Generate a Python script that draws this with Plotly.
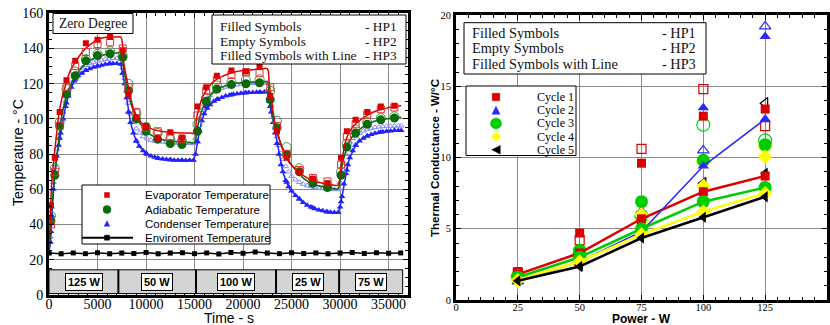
import plotly.graph_objects as go

# ---------------- LEFT CHART DATA (Time - s vs Temperature) ----------------
t_line = [0, 150, 300, 500, 750, 1000, 1300, 1700, 2200, 2800, 3500, 4300, 5200, 6200, 7000, 7400,
          7700, 8000, 8300, 8700, 9200, 9800, 10500, 11500, 12500, 13500, 14500, 15000, 15200, 15450,
          15800, 16300, 17000, 18000, 19000, 20000, 21000, 22000, 22500, 22700, 23000, 23300, 23700,
          24200, 24800, 25500, 26300, 27200, 28200, 29200, 29800, 30000, 30200, 30500, 30900, 31400,
          32000, 32800, 33700, 34700, 35600, 36300]
evap_hp3 = [25, 48, 65, 77, 90, 102, 111, 119, 127.5, 133, 138.5, 142.5, 145.5, 146.5, 146.5, 146.5,
            132, 123, 115, 106, 100, 96.5, 94.5, 93, 92.5, 92, 92, 92, 100, 106,
            112, 117, 121.5, 124.5, 126.5, 127.5, 128, 128.5, 128.5, 120, 108, 97, 89,
            81, 75, 71, 67.5, 65, 63.5, 62.5, 62.5, 70, 76, 86, 92, 96,
            99, 102, 104.5, 106, 107, 107.5]
adia_hp3 = [25, 38, 50, 63, 75, 88, 101, 111, 119, 125, 130, 133.5, 135.5, 137, 137.5, 137.5,
            128, 120, 112, 104.5, 99, 94.5, 91, 88.5, 87.5, 87, 86.5, 86.5, 92, 99,
            105.5, 111, 115.5, 118.5, 120, 120.5, 121, 121, 121, 114, 104, 96, 89,
            82, 75.5, 70.5, 66, 63, 61.5, 60.5, 60.5, 66, 73, 80, 86.5, 91,
            94, 97, 99, 100, 100.5, 101]

t_sym = [200, 600, 1100, 1800, 2700, 3800, 5000, 6300, 7600, 8200, 9000, 10000, 11200, 12500, 13700,
         15300, 16200, 17300, 18800, 20300, 21700, 22800, 23500, 24500, 25800, 27200, 28700, 30100,
         30700, 31600, 32800, 34200, 35600]
evap_hp1 = [51, 78, 104, 122, 133, 143, 145, 146.5, 139, 114, 101, 96, 89, 92.5, 89.5,
            107, 118, 124.5, 127.5, 127, 129.5, 113, 93, 78, 70, 66, 63.5, 78,
            93, 99.5, 104, 107, 107.5]
evap_hp2 = [40, 70, 96, 118, 130, 138, 142.5, 143.5, 140, 118, 104, 95, 93, 90, 88.5,
            102, 116, 122, 125, 126.5, 126, 118, 96, 80, 71, 66.5, 64.5, 74,
            90, 97, 102.5, 105.5, 106.5]
adia_hp1 = [42, 68, 96, 114, 124.5, 133, 136, 137, 135, 116, 100, 93, 88.5, 86, 85.5,
            93, 110, 117, 119.5, 120, 120.5, 111, 95, 80, 70, 63.5, 61, 68,
            84, 92, 97, 99.5, 100.5]
adia_hp2 = [45, 72, 98, 117, 127, 134, 137, 138.5, 136, 120, 103, 95.5, 92, 88.5, 87.5,
            97, 112, 119, 121, 122, 122.5, 116, 99, 84, 72, 65, 62.5, 70,
            86, 94, 98, 100.5, 101.5]
cond_hp1 = [36, 70, 89, 109, 122.5, 127.5, 130, 131.3, 126, 104, 87.5, 80.5, 77.8, 76.8, 76.5,
            87, 107, 111, 113.8, 114.9, 115.2, 107, 86, 64, 54.5, 49.5, 47.2, 53,
            71, 85, 90.3, 92.5, 93.4]

t_cond = [0, 150, 300, 450, 600, 800, 1000, 1200, 1450, 1700, 2000, 2300, 2600, 3000, 3400, 3800, 4200,
          4600, 5000, 5400, 5800, 6200, 6600, 7000, 7400, 7600, 7800, 8000, 8200, 8400, 8700, 9000,
          9300, 9700, 10100, 10500, 10900, 11300, 11700, 12100, 12500, 12900, 13300, 13700, 14100,
          14500, 14900, 15100, 15300, 15500, 15750, 16000, 16300, 16600, 17000, 17400, 17800, 18200,
          18600, 19000, 19400, 19800, 20200, 20600, 21000, 21400, 21800, 22200, 22500, 22700, 22900,
          23100, 23300, 23500, 23700, 23900, 24100, 24400, 24700, 25000, 25400, 25800, 26200, 26600,
          27000, 27400, 27800, 28200, 28600, 29000, 29400, 29800, 30000, 30200, 30400, 30600, 30800,
          31000, 31300, 31600, 32000, 32400, 32800, 33200, 33600, 34000, 34400, 34800, 35200, 35600,
          36000, 36300]
cond_hp3 = [24, 30, 45, 60, 70, 79, 85, 92, 100, 107, 113, 118, 121.5, 124.5, 126, 127.5, 128.5,
            129.3, 130, 130.5, 131, 131.3, 131.5, 131.5, 131, 126, 120, 112, 104, 98, 92, 87.5,
            84.5, 82, 80, 79, 78.2, 77.6, 77.2, 77, 76.8, 76.6, 76.5, 76.5, 76.4,
            76.5, 76.5, 80, 87, 93, 99, 103, 106, 108, 110, 111.3, 112.2, 113,
            113.5, 114, 114.3, 114.6, 114.8, 115, 115, 115.2, 115.2, 115.3, 115.3, 110, 104,
            98, 92, 86, 80, 74, 70, 65, 61.5, 59, 56.5, 54.5, 52.5, 51,
            50, 49, 48.3, 47.8, 47.3, 47, 46.8, 46.8, 50, 56, 63, 69, 74,
            78, 82, 85, 87.5, 89, 90.3, 91.2, 91.8, 92.3, 92.7, 93, 93.2, 93.4,
            93.5, 93.5]
cond_hp2 = [24, 33, 50, 64, 74, 83, 90, 97, 104, 110, 116, 120.5, 124, 127, 129, 130.5, 131.5,
            132.3, 133, 133.5, 134, 134.2, 134.5, 134.5, 134, 129, 123, 116, 109, 103, 98, 94.5,
            92, 90, 88.8, 88, 87.5, 87.2, 87, 86.8, 86.6, 86.5, 86.4, 86.3, 86.3,
            86.2, 86.2, 89, 95, 100, 105, 108.5, 111.5, 113.5, 115.3, 116.5, 117.5, 118.2,
            118.8, 119.2, 119.5, 119.8, 120, 120.2, 120.3, 120.4, 120.5, 120.5, 120.5, 115, 108,
            101, 95, 90, 85, 80.5, 77, 73, 70, 67.5, 65.5, 64, 63, 62.2,
            61.6, 61.2, 60.8, 60.5, 60.3, 60.2, 60, 60, 64, 70, 75, 80, 84,
            87, 89, 90, 92, 93.3, 94.2, 94.8, 95.2, 95.5, 95.7, 95.9, 96, 96,
            96.1, 96.1]

t_env = [0, 1250, 2500, 3750, 5000, 6250, 7500, 8750, 10000, 11250, 12500, 13750, 15000, 16250, 17500,
         18750, 20000, 21250, 22500, 23750, 25000, 26250, 27500, 28750, 30000, 31250, 32500, 33750,
         35000, 36250]
env_temp = [23.8, 23.4, 23.9, 23.5, 24.0, 23.4, 23.8, 23.6, 24.1, 23.4, 23.8, 24.0, 23.5, 23.9, 23.3,
            24.1, 23.7, 24.4, 23.8, 23.5, 24.0, 23.6, 23.9, 23.4, 23.8, 24.1, 23.6, 24.0, 23.7, 23.9]

power_edges = [0, 7150, 15150, 23400, 29900, 36450]
power_labels = ["125 W", "50 W", "100 W", "25 W", "75 W"]
band_low, band_high = 0.8, 14.3

# ---------------- RIGHT CHART DATA (Power vs Thermal Conductance) ----------------
power_w = [25, 50, 75, 100, 125]
cycles = ["Cycle 1", "Cycle 2", "Cycle 3", "Cycle 4", "Cycle 5"]
hp3_vals = [[1.8, 3.3, 5.7, 7.6, 8.7],
            [1.3, 2.7, 4.8, 9.4, 12.7],
            [1.6, 3.0, 5.0, 6.9, 7.9],
            [1.4, 2.7, 4.6, 6.2, 7.5],
            [1.35, 2.35, 4.35, 5.8, 7.25]]
hp1_vals = [[2.0, 4.7, 9.6, 12.9, 13.4],
            [1.4, 2.8, 5.9, 13.5, 18.5],
            [1.7, 3.5, 6.9, 9.8, 10.9],
            [1.5, 2.9, 6.0, 8.0, 10.05],
            [1.4, 2.5, 5.4, 7.15, 8.9]]
hp2_vals = [[1.9, 4.2, 10.6, 14.8, 12.2],
            [1.3, 2.9, 6.2, 10.5, 19.2],
            [1.6, 3.2, 5.9, 12.3, 11.2],
            [1.4, 2.8, 5.6, 9.7, 10.7],
            [1.45, 2.45, 4.8, 8.2, 13.8]]

# ---------------- styles ----------------
W, H = 830, 325
SERIF = "Liberation Serif"
SANS = "Liberation Sans"
RED, DGREEN, BLUE = "#dd0000", "#0a6a0a", "#2222ff"
cyc_colors = ["#dd0000", "#2a2aff", "#00cc00", "#ffff00", "#000000"]
cyc_sym = ["square", "triangle-up", "circle", "diamond", "triangle-left"]
cyc_size = [9, 10, 13, 11, 10]
cyc_lw = [2.5, 1.6, 2.5, 2.5, 2.5]


def px(x):
    return x / W


def py(y):
    return 1 - y / H


fig = go.Figure()

# left chart traces
fig.add_trace(go.Scatter(x=t_cond, y=cond_hp2, mode="markers",
                         marker=dict(symbol="triangle-up-open", size=5, color="#8a8aff", line=dict(width=1)),
                         xaxis="x", yaxis="y"))
fig.add_trace(go.Scatter(x=t_cond, y=cond_hp3, mode="lines+markers", line=dict(color=BLUE, width=1.5),
                         marker=dict(symbol="triangle-up", size=6, color=BLUE), xaxis="x", yaxis="y"))
fig.add_trace(go.Scatter(x=t_sym, y=cond_hp1, mode="markers",
                         marker=dict(symbol="triangle-up", size=6, color=BLUE), xaxis="x", yaxis="y"))
fig.add_trace(go.Scatter(x=t_line, y=adia_hp3, mode="lines", line=dict(color=DGREEN, width=1.5, shape="spline"),
                         xaxis="x", yaxis="y"))
fig.add_trace(go.Scatter(x=t_sym, y=adia_hp2, mode="markers",
                         marker=dict(symbol="circle-open", size=9, color="#3a9a3a", line=dict(width=1)),
                         xaxis="x", yaxis="y"))
fig.add_trace(go.Scatter(x=t_sym, y=adia_hp1, mode="markers",
                         marker=dict(symbol="circle", size=9, color=DGREEN), xaxis="x", yaxis="y"))
fig.add_trace(go.Scatter(x=t_line, y=evap_hp3, mode="lines", line=dict(color=RED, width=1.5, shape="spline"),
                         xaxis="x", yaxis="y"))
fig.add_trace(go.Scatter(x=t_sym, y=evap_hp2, mode="markers",
                         marker=dict(symbol="square-open", size=7, color="#e03030", line=dict(width=1)),
                         xaxis="x", yaxis="y"))
fig.add_trace(go.Scatter(x=t_sym, y=evap_hp1, mode="markers",
                         marker=dict(symbol="square", size=6, color=RED), xaxis="x", yaxis="y"))
fig.add_trace(go.Scatter(x=t_env, y=env_temp, mode="lines+markers", line=dict(color="black", width=1.5),
                         marker=dict(symbol="square", size=5, color="black"), xaxis="x", yaxis="y"))

# right chart traces
for i in range(5):
    fig.add_trace(go.Scatter(x=power_w, y=hp2_vals[i], mode="markers",
                             marker=dict(symbol=cyc_sym[i] + "-open", size=cyc_size[i], color=cyc_colors[i],
                                         line=dict(width=1.2)),
                             xaxis="x2", yaxis="y2"))
for i in range(5):
    fig.add_trace(go.Scatter(x=power_w, y=hp1_vals[i], mode="markers",
                             marker=dict(symbol=cyc_sym[i], size=cyc_size[i], color=cyc_colors[i]),
                             xaxis="x2", yaxis="y2"))
for i in range(5):
    fig.add_trace(go.Scatter(x=power_w, y=hp3_vals[i], mode="lines+markers",
                             line=dict(color=cyc_colors[i], width=cyc_lw[i]),
                             marker=dict(symbol=cyc_sym[i], size=cyc_size[i], color=cyc_colors[i]),
                             xaxis="x2", yaxis="y2"))

shapes = []
annotations = []

# power band
shapes.append(dict(type="rect", xref="x", yref="y", x0=power_edges[0], x1=power_edges[-1], y0=band_low,
                   y1=band_high, fillcolor="#d4d4d4", line=dict(color="black", width=1), layer="above"))
for e in power_edges[1:-1]:
    shapes.append(dict(type="line", xref="x", yref="y", x0=e, x1=e, y0=band_low, y1=band_high,
                       line=dict(color="black", width=2), layer="above"))
for i, lab in enumerate(power_labels):
    annotations.append(dict(xref="x", yref="y", x=(power_edges[i] + power_edges[i + 1]) / 2, y=(band_low + band_high) / 2,
                            text="<b>%s</b>" % lab, showarrow=False, font=dict(family=SANS, size=11, color="black"),
                            bgcolor="white", bordercolor="black", borderwidth=1, borderpad=2))


# text boxes and legend keys (paper-pixel helpers)
def box(x0, y0, x1, y1):
    shapes.append(dict(type="rect", xref="paper", yref="paper", x0=px(x0), x1=px(x1), y0=py(y1), y1=py(y0),
                       fillcolor="white", line=dict(color="black", width=1), layer="above"))


def key(kind, cx, cy, s, color):
    h = s / 2.0
    base = dict(xref="paper", yref="paper", fillcolor=color, line=dict(color=color, width=0.5), layer="above")
    if kind == "square":
        shapes.append(dict(type="rect", x0=px(cx - h), x1=px(cx + h), y0=py(cy + h), y1=py(cy - h), **base))
    elif kind == "circle":
        shapes.append(dict(type="circle", x0=px(cx - h), x1=px(cx + h), y0=py(cy + h), y1=py(cy - h), **base))
    else:
        if kind == "triangle-up":
            pts = [(cx, cy - h), (cx + h, cy + h), (cx - h, cy + h)]
        elif kind == "diamond":
            pts = [(cx, cy - h), (cx + h, cy), (cx, cy + h), (cx - h, cy)]
        else:  # triangle-left
            pts = [(cx - h, cy), (cx + h, cy - h), (cx + h, cy + h)]
        path = "M " + " L ".join("%.5f,%.5f" % (px(a), py(b)) for a, b in pts) + " Z"
        shapes.append(dict(type="path", path=path, **base))


def txt(x, y, s, size, family=SERIF, anchor="left", color="#111111", angle=0):
    annotations.append(dict(xref="paper", yref="paper", x=px(x), y=py(y), text=s, showarrow=False,
                            xanchor=anchor, yanchor="middle", textangle=angle,
                            font=dict(family=family, size=size, color=color)))


box(53, 13.5, 133, 33.5)
txt(93, 23.5, "Zero Degree", 13.6, anchor="center")

box(212, 15, 406, 64)
for yy, a, b in [(26.5, "Filled Symbols", "- HP1"), (41.2, "Empty Symbols", "- HP2"),
                 (55.5, "Filled Symbols with Line", "- HP3")]:
    txt(218, yy, a, 13.4)
    txt(399, yy, b, 13.4, anchor="right")

box(82, 185, 270, 244)
leg_rows = [(195, "Evaporator Temperature", "square", RED, 5),
            (209.5, "Adiabatic Temperature", "circle", DGREEN, 8),
            (223.5, "Condenser Temperature", "triangle-up", BLUE, 5.5)]
for yy, s, k, c, ks in leg_rows:
    key(k, 107, yy, ks, c)
    txt(143, yy, s, 11.5, family=SANS, color="black")
shapes.append(dict(type="line", xref="paper", yref="paper", x0=px(82), x1=px(133), y0=py(237.7), y1=py(237.7),
                   line=dict(color="black", width=2), layer="above"))
key("square", 107, 237.7, 5, "black")
txt(143, 237.7, "Enviroment Temperature", 11.5, family=SANS, color="black")

box(464, 22.7, 706, 74)
for yy, a, b in [(33.0, "Filled Symbols", "- HP1"), (48.3, "Empty Symbols", "- HP2"),
                 (63.6, "Filled Symbols with Line", "- HP3")]:
    txt(470, yy, a, 14.3)
    txt(698, yy, b, 14.3, anchor="right")

box(466, 86, 576, 155.5)
key_sizes = [7.5, 8, 11, 9.5, 8.5]
for i in range(5):
    yy = 97.0 + i * 13.2
    key(cyc_sym[i], 496, yy, key_sizes[i], cyc_colors[i])
    txt(535, yy, cycles[i], 12, color="#000000")

# axis titles
txt(18, 153, "Temperature - °C", 14, family=SANS, anchor="center", color="black", angle=-90)
txt(228.5, 317.5, "Time - s", 14, family=SANS, anchor="center", color="black")
txt(435, 158, "<b>Thermal Conductance - W/°C</b>", 11.5, family=SANS, anchor="center", color="black", angle=-90)
txt(641.5, 318.5, "<b>Power - W</b>", 12, family=SANS, anchor="center", color="black")

axcommon = dict(showline=True, linecolor="black", linewidth=3, mirror="allticks", ticks="inside",
                ticklen=5, tickcolor="black", tickwidth=1, showgrid=True, gridcolor="#8a8a8a", gridwidth=1,
                zeroline=False, automargin=False, fixedrange=True, tickformat="d")

fig.update_layout(
    width=W, height=H, margin=dict(l=0, r=0, t=0, b=0, autoexpand=False), template="none",
    paper_bgcolor="white", plot_bgcolor="white", showlegend=False,
    xaxis=dict(domain=[px(49), px(408)], range=[0, 37000], dtick=5000, tick0=0, anchor="y",
               tickfont=dict(family=SERIF, size=14, color="black"), ticklabelstandoff=-6,
               minor=dict(dtick=1000, ticks="inside", ticklen=3, tickcolor="black", showgrid=False), **axcommon),
    yaxis=dict(domain=[py(295), py(13.3)], range=[0, 160], dtick=20, anchor="x",
               tickfont=dict(family=SERIF, size=14, color="black"),
               minor=dict(dtick=5, ticks="inside", ticklen=3, tickcolor="black", showgrid=False), **axcommon),
    xaxis2=dict(domain=[px(456), px(827)], range=[0, 150], dtick=25, anchor="y2",
                tickfont=dict(family=SERIF, size=10.5, color="black"), ticklabelstandoff=-5,
                minor=dict(dtick=5, ticks="inside", ticklen=3, tickcolor="black", showgrid=False), **axcommon),
    yaxis2=dict(domain=[py(300), py(15)], range=[0, 20], dtick=5, anchor="x2",
                tickfont=dict(family=SERIF, size=10.5, color="black"),
                minor=dict(dtick=1, ticks="inside", ticklen=3, tickcolor="black", showgrid=False), **axcommon),
    shapes=shapes, annotations=annotations,
)

fig.write_html("out.html", config={"displayModeBar": False},
               post_script="document.body.style.margin='0';document.body.style.overflow='hidden';")
